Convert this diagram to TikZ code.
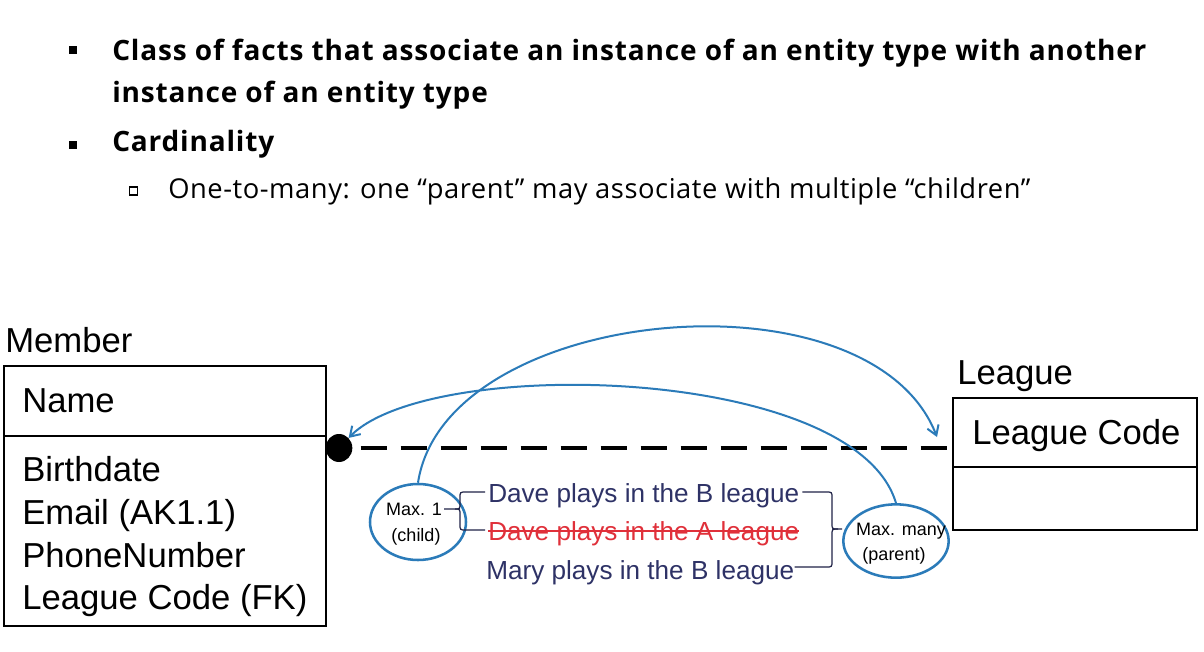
\documentclass[tikz,border=0pt]{standalone}
\usepackage{fontspec}
\setmainfont{Open Sans}
\newfontfamily\topfont[LetterSpace=3]{Open Sans}
\newfontfamily\subfont[LetterSpace=2]{Open Sans}
\newfontfamily\erfont{Liberation Sans}
\newfontfamily\handfont{Liberation Sans}
\usetikzlibrary{arrows.meta,shapes.geometric}
\definecolor{arrowblue}{HTML}{2B7BB9}
\definecolor{navy}{HTML}{2E3266}
\definecolor{strikered}{HTML}{E0303A}
\tikzset{
  txt/.style={inner sep=0pt, anchor=base west},
  bold/.style={txt, font=\topfont\fontsize{21}{24}\selectfont\bfseries},
  sub/.style={txt, font=\subfont\fontsize{20.5}{24}\selectfont},
  er/.style={txt, font=\erfont\fontsize{26}{30}\selectfont},
  hand/.style={txt, font=\handfont\fontsize{19.6}{22}\selectfont, text=navy},
  small/.style={inner sep=0pt, anchor=base, font=\erfont\fontsize{13.5}{15}\selectfont},
  bluecirc/.style={draw=arrowblue, line width=1.9pt, ellipse, inner sep=0pt},
  bluearrow/.style={draw=arrowblue, line width=1.5pt, -{Straight Barb[length=7pt,width=9pt,line width=1.5pt]}},
  erbox/.style={draw=black, line width=1.3pt},
  bracket/.style={draw=navy!70!black, line width=0.9pt},
}
\begin{document}
\begin{tikzpicture}[x=0.75pt,y=-0.75pt]
\useasboundingbox (0,0) rectangle (1204,651);
\fill[white] (0,0) rectangle (1204,651);

% bullets
\fill (69,46) rectangle (77,54);
\fill (69,141) rectangle (77,149);
\draw[line width=0.8pt] (129.5,187) rectangle (137.5,195);
\node[bold] (b1) at (112,60) {Class of facts that associate an instance of an entity type with another};
\node[bold] (b2) at (112,102) {instance of an entity type};
\node[bold] (b3) at (112,151) {Cardinality};
\node[sub] (s1) at (168,198) {One-to-many: one “parent” may associate with multiple “children”};

% Member entity
\node[er] (memt) at (5,352) {Member};
\draw[erbox] (4,366) rectangle (326,626);
\draw[erbox] (4,436) -- (326,436);
\node[er] (mname) at (22,412) {Name};
\node[er] (a1) at (22,481) {Birthdate};
\node[er] (a2) at (22,524) {Email (AK1.1)};
\node[er] (a3) at (22,567) {PhoneNumber};
\node[er] (a4) at (22,609) {League Code (FK)};

% League entity
\node[er] (leat) at (957,384) {League};
\draw[erbox] (953,398) rectangle (1197,530);
\draw[erbox] (953,467) -- (1197,467);
\node[er] (lcode) at (972,444) {League Code};
\coordinate (lgwest) at (953,448);
\coordinate (lgtip) at (937,437);

% relationship
\node[fill=black, ellipse, minimum width=20pt, minimum height=21pt, inner sep=0pt] (dot) at (339,448) {};
\draw[line width=3.6pt, dash pattern=on 20pt off 10pt, dash phase=-6pt] (dot.east) -- (lgwest);

% ellipses
\node[bluecirc, minimum width=72pt, minimum height=57pt] (lell) at (418,522) {};
\node[small] (m1) at (414,515) {Max. 1};
\node[small] (c1) at (416,541) {(child)};
\node[bluecirc, minimum width=79pt, minimum height=55pt] (rell) at (896,541) {};
\node[small] (mm) at (901,535) {Max. many};
\node[small] (pp) at (894,560) {(parent)};

% handwritten statements
\node[hand] (dB) at (488,502) {Dave plays in the B league};
\node[hand, text=strikered] (dA) at (488,540) {Dave plays in the A league};
\draw[strikered, line width=1pt] (dA.west |- 0,531) -- (dA.east |- 0,531);
\node[hand] (mB) at (486,579) {Mary plays in the B league};

% brackets
\draw[bracket] (m1.east |- 0,509) ++(2,0) -- (455,509) .. controls (460,509) .. (460,503) -- (460,498) .. controls (460,492) .. (466,492) -- (485,492);
\draw[bracket] (455,509) .. controls (460,509) .. (460,515) -- (460,524) .. controls (460,530) .. (466,530) -- (485,530);
\draw[bracket] (dB.east |- 0,492) ++(3,0) -- (826,492) .. controls (832,492) .. (832,498) -- (832,523) .. controls (832,529) .. (838,529) -- (rell.west |- 0,529);
\draw[bracket] (838,529) .. controls (832,529) .. (832,535) -- (832,561) .. controls (832,567) .. (826,567) -- (mB.east |- 0,567);

% blue arrows
\draw[bluearrow] (lell.north) .. controls (445,305) and (870,265) .. (lgtip);
\draw[bluearrow] (rell.north) .. controls (855,365) and (430,355) .. (dot.north east);
\end{tikzpicture}
\end{document}
